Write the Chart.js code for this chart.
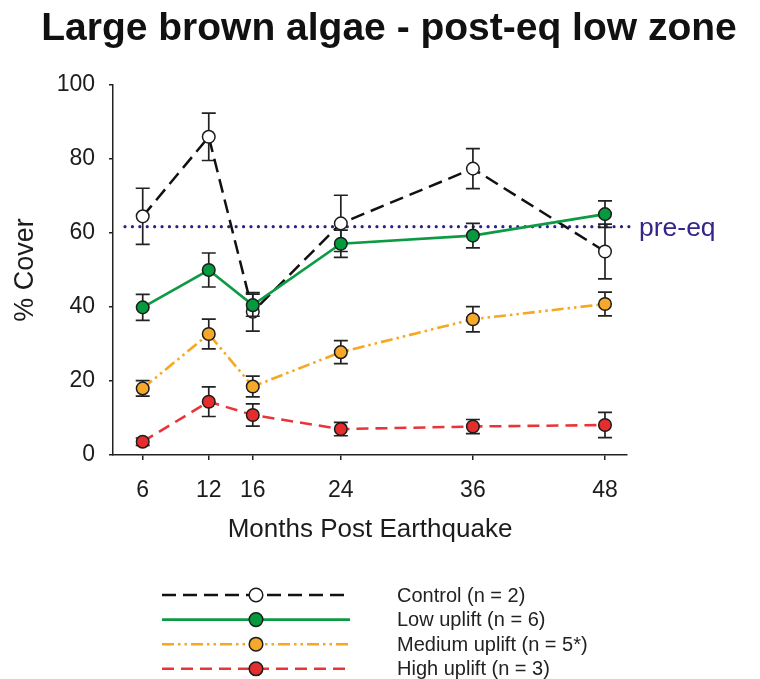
<!DOCTYPE html>
<html>
<head>
<meta charset="utf-8">
<script src="https://cdn.jsdelivr.net/npm/chart.js@4.4.1/dist/chart.umd.min.js"></script>
<style>
  html, body { margin: 0; padding: 0; background: #ffffff; }
  canvas { display: block; }
</style>
</head>
<body>
<canvas id="chart" width="760" height="679"></canvas>
<script>
// Sampling times (months after the earthquake)
const MONTHS = [6, 12, 16, 24, 36, 48];
const X_TICKS = [6, 12, 16, 24, 36, 48];
const Y_TICKS = [0, 20, 40, 60, 80, 100];

// Mean % cover and standard error per uplift class
const CONTROL     = [64.5, 86.0, 38.7, 62.6, 77.4, 55.0];
const CONTROL_SE  = [7.6, 6.4, 5.2, 7.6, 5.4, 7.4];
const LOW         = [39.9, 50.0, 40.5, 57.1, 59.3, 65.1];
const LOW_SE      = [3.5, 4.6, 3.0, 3.7, 3.3, 3.6];
const MEDIUM      = [18.0, 32.7, 18.5, 27.8, 36.7, 40.8];
const MEDIUM_SE   = [2.1, 4.0, 2.8, 3.1, 3.4, 3.2];
const HIGH        = [3.6, 14.4, 10.8, 7.0, 7.7, 8.1];
const HIGH_SE     = [1.0, 4.0, 3.0, 1.8, 1.9, 3.4];

const SERIES_LABELS = ['Control (n = 2)', 'Low uplift (n = 6)', 'Medium uplift (n = 5*)', 'High uplift (n = 3)'];

// Pre-earthquake reference level
const PRE_EQ = 61.7;
const PRE_EQ_LABEL = 'pre-eq';

const TITLE = 'Large brown algae - post-eq low zone';
const FONT = "'Liberation Sans', Arial, Helvetica, sans-serif";
const INK = '#1c1c1c';

function toPoints(values) {
  return MONTHS.map((m, i) => ({ x: m, y: values[i] }));
}

function series(label, values, errors, style) {
  return Object.assign({
    label: label,
    data: toPoints(values),
    errors: errors,
    pointRadius: 6.3,
    pointHoverRadius: 6.3,
    pointBorderColor: INK,
    pointBorderWidth: 1.5,
    tension: 0,
    fill: false
  }, style);
}

const datasets = [
  series(SERIES_LABELS[0], CONTROL, CONTROL_SE, {
    borderColor: '#111111', borderWidth: 2.5, borderDash: [14, 7],
    pointBackgroundColor: '#ffffff', order: 4
  }),
  series(SERIES_LABELS[1], LOW, LOW_SE, {
    borderColor: '#0d9a44', borderWidth: 2.7, borderDash: [],
    pointBackgroundColor: '#069a3e', order: 1
  }),
  series(SERIES_LABELS[2], MEDIUM, MEDIUM_SE, {
    borderColor: '#f6a823', borderWidth: 2.6, borderDash: [12, 4, 2.5, 4, 2.5, 4],
    pointBackgroundColor: '#f5a82a', order: 2
  }),
  series(SERIES_LABELS[3], HIGH, HIGH_SE, {
    borderColor: '#e8353a', borderWidth: 2.6, borderDash: [12, 7],
    pointBackgroundColor: '#e42e2e', order: 3
  })
];

// Error bars, drawn just beneath each series' own line and markers
const errorBars = {
  id: 'errorBars',
  beforeDatasetDraw(chart, args) {
    const ds = chart.data.datasets[args.index];
    if (!ds.errors) return;
    const { ctx, scales: { x, y } } = chart;
    ctx.save();
    ctx.strokeStyle = '#222222';
    ctx.lineWidth = 1.7;
    ds.data.forEach((p, i) => {
      const e = ds.errors[i];
      const px = x.getPixelForValue(p.x);
      const top = y.getPixelForValue(p.y + e);
      const bot = y.getPixelForValue(p.y - e);
      ctx.beginPath();
      ctx.moveTo(px, top); ctx.lineTo(px, bot);
      ctx.moveTo(px - 7, top); ctx.lineTo(px + 7, top);
      ctx.moveTo(px - 7, bot); ctx.lineTo(px + 7, bot);
      ctx.stroke();
    });
    ctx.restore();
  }
};

// Dotted pre-earthquake level with its label
const preEqLine = {
  id: 'preEqLine',
  beforeDatasetsDraw(chart) {
    const { ctx, chartArea, scales: { y } } = chart;
    const py = y.getPixelForValue(PRE_EQ);
    ctx.save();
    ctx.strokeStyle = '#2d2185';
    ctx.lineWidth = 3.2;
    ctx.lineCap = 'round';
    ctx.setLineDash([0.01, 7.4]);
    ctx.beginPath();
    ctx.moveTo(chartArea.left + 12, py);
    ctx.lineTo(chartArea.right + 5, py);
    ctx.stroke();
    ctx.setLineDash([]);
    ctx.fillStyle = '#34258a';
    ctx.font = '26.5px ' + FONT;
    ctx.textAlign = 'left';
    ctx.textBaseline = 'alphabetic';
    ctx.fillText(PRE_EQ_LABEL, chartArea.right + 12, py + 9);
    ctx.restore();
  }
};

// Heading and the key below the plot
const headingAndKey = {
  id: 'headingAndKey',
  afterDraw(chart) {
    const { ctx } = chart;
    ctx.save();
    ctx.fillStyle = '#111111';
    ctx.font = 'bold 39px ' + FONT;
    ctx.textAlign = 'center';
    ctx.textBaseline = 'alphabetic';
    ctx.fillText(TITLE, 389, 40);

    const x0 = 162, x1 = 350, xm = 256, textX = 397;
    chart.data.datasets.forEach((ds, i) => {
      const yy = 595 + i * 24.6;
      ctx.strokeStyle = ds.borderColor;
      ctx.lineWidth = ds.borderWidth;
      ctx.setLineDash(ds.borderDash || []);
      ctx.beginPath();
      ctx.moveTo(x0, yy); ctx.lineTo(x1, yy);
      ctx.stroke();
      ctx.setLineDash([]);
      ctx.beginPath();
      ctx.arc(xm, yy, 6.8, 0, Math.PI * 2);
      ctx.fillStyle = ds.pointBackgroundColor;
      ctx.fill();
      ctx.lineWidth = 1.5;
      ctx.strokeStyle = INK;
      ctx.stroke();
      ctx.fillStyle = '#222222';
      ctx.font = '20px ' + FONT;
      ctx.textAlign = 'left';
      ctx.textBaseline = 'middle';
      ctx.fillText(ds.label, textX, yy + 1);
    });
    ctx.restore();
  }
};

Chart.defaults.font.family = FONT;
Chart.defaults.color = INK;

new Chart(document.getElementById('chart'), {
  type: 'line',
  data: { datasets: datasets },
  options: {
    responsive: false,
    animation: false,
    devicePixelRatio: 1,
    layout: { padding: { top: 85, left: 0, right: 133, bottom: 134 } },
    plugins: {
      legend: { display: false },
      title: { display: false },
      tooltip: { enabled: false }
    },
    scales: {
      x: {
        type: 'linear',
        position: 'bottom',
        min: 3.3,
        max: 50,
        afterBuildTicks: (s) => { s.ticks = X_TICKS.map(v => ({ value: v })); },
        afterFit: (s) => { s.height = 90; },
        ticks: {
          autoSkip: false, maxRotation: 0,
          font: { size: 23 }, color: INK, padding: 17
        },
        grid: { drawOnChartArea: false, drawTicks: true, tickLength: 5, color: '#222222', lineWidth: 1.5 },
        border: { display: true, color: '#222222', width: 1.5 },
        title: {
          display: true, text: 'Months Post Earthquake',
          font: { size: 26 }, color: INK, padding: { top: 0, bottom: 0 }
        }
      },
      y: {
        min: 0,
        max: 100,
        afterBuildTicks: (s) => { s.ticks = Y_TICKS.map(v => ({ value: v })); },
        afterFit: (s) => { s.width = 113; },
        ticks: { font: { size: 23 }, color: INK, padding: 14 },
        grid: { drawOnChartArea: false, drawTicks: true, tickLength: 4, color: '#222222', lineWidth: 1.5 },
        border: { display: true, color: '#222222', width: 1.5 },
        title: {
          display: true, text: '% Cover',
          font: { size: 27 }, color: INK, padding: { top: 9, bottom: 0 }
        }
      }
    }
  },
  plugins: [errorBars, preEqLine, headingAndKey]
});
</script>
</body>
</html>
